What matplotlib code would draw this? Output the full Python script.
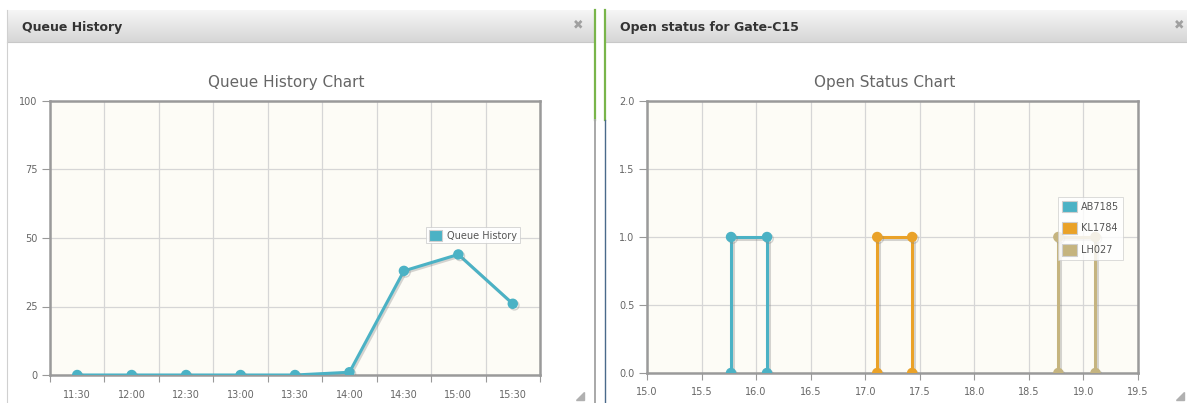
import numpy as np
import matplotlib.pyplot as plt
import matplotlib.patheffects as pe
from matplotlib.colors import LinearSegmentedColormap
from matplotlib.patches import Patch, Polygon

# Queue history data
queue_times = ['11:30', '12:00', '12:30', '13:00', '13:30', '14:00', '14:30', '15:00', '15:30']
queue_values = [0, 0, 0, 0, 0, 1, 38, 44, 26]

# Open status data (hour of day, open flag)
ab7185_x = [15.77, 15.77, 16.10, 16.10]
ab7185_y = [0, 1, 1, 0]
kl1784_x = [17.11, 17.11, 17.43, 17.43]
kl1784_y = [0, 1, 1, 0]
lh027_x = [18.77, 18.77, 19.11, 19.11]
lh027_y = [0, 1, 1, 0]

W, H = 1187, 403
TEAL = '#4bb2c5'
ORANGE = '#eaa228'
TAN = '#c5b47f'
PLOT_BG = '#fdfcf6'

fig = plt.figure(figsize=(W / 100, H / 100), dpi=100)
fig.patch.set_facecolor('white')


def px_rect(x0, y0, x1, y1):
    # pixel box (top-left origin) -> figure fraction rect
    return [x0 / W, 1 - y1 / H, (x1 - x0) / W, (y1 - y0) / H]


# background layer for the panel chrome
bg = fig.add_axes([0, 0, 1, 1])
bg.axis('off')

hdr_cmap = LinearSegmentedColormap.from_list('hdr', ['#f6f6f6', '#d6d6d6'])
grad = np.linspace(0, 1, 64).reshape(-1, 1)
for x0, x1 in [(7, 594), (605, 1187)]:
    bg.imshow(grad, extent=[x0, x1, 42, 10], cmap=hdr_cmap, aspect='auto', zorder=1)
    bg.plot([x0, x1], [42, 42], color='#c8c8c8', lw=0.8, zorder=2)
bg.set_xlim(0, W)
bg.set_ylim(H, 0)
bg.plot([7, 7], [10, H], color='#d0d0d0', lw=0.8)
bg.plot([594.5, 594.5], [10, 120], color='#79b54a', lw=1.6)
bg.plot([594.5, 594.5], [120, H], color='#a8a8a8', lw=1.4)
bg.plot([604.5, 604.5], [10, 120], color='#79b54a', lw=1.6)
bg.plot([604.5, 604.5], [120, H], color='#4a6a8a', lw=1.0)

bg.text(22, 27, 'Queue History', fontsize=9, fontweight='bold', color='#333333', va='center')
bg.text(620, 27, 'Open status for Gate-C15', fontsize=9, fontweight='bold', color='#333333', va='center')
bg.text(578, 25, '\u2716', fontsize=9, color='#a0a0a0', ha='center', va='center')
bg.text(1179, 25, '\u2716', fontsize=9, color='#a0a0a0', ha='center', va='center')
for cx in (584, 1184):
    bg.add_patch(Polygon([[cx, 392], [cx, 400], [cx - 8, 400]], closed=True, color='#b0b0b0', zorder=3))

bg.text(286, 83, 'Queue History Chart', fontsize=11, color='#666666', ha='center', va='center')
bg.text(885, 83, 'Open Status Chart', fontsize=11, color='#666666', ha='center', va='center')

shadow = [pe.SimpleLineShadow(offset=(1.2, -1.2), shadow_color='#888888', alpha=0.35), pe.Normal()]


def style_axes(ax):
    ax.set_facecolor(PLOT_BG)
    for s in ax.spines.values():
        s.set_color('#9a9a9a')
        s.set_linewidth(1.8)
    ax.grid(True, color='#d6d6d6', lw=0.9)
    ax.set_axisbelow(True)
    ax.tick_params(axis='both', colors='#999999', labelcolor='#666666', labelsize=7, width=0.8)
    ax.tick_params(axis='y', length=6, pad=3)


def swatch(color, label):
    return Patch(facecolor=color, edgecolor='#cfcfcf', linewidth=0.8, label=label)


def style_legend(leg, alpha):
    frame = leg.get_frame()
    frame.set_edgecolor('#cccccc')
    frame.set_linewidth(0.6)
    frame.set_alpha(alpha)


# left chart
ax1 = fig.add_axes(px_rect(50, 101, 540, 375))
style_axes(ax1)
xpos = np.arange(len(queue_times))
ax1.plot(xpos, queue_values, color=TEAL, lw=2.2, marker='o', ms=6.5, path_effects=shadow, zorder=3)
ax1.set_xlim(-0.5, len(queue_times) - 0.5)
ax1.set_ylim(0, 100)
ax1.set_yticks([0, 25, 50, 75, 100])
ax1.set_xticks(np.arange(-0.5, len(queue_times)), labels=[''] * (len(queue_times) + 1))
ax1.set_xticks(xpos, labels=queue_times, minor=True)
ax1.tick_params(axis='x', which='major', length=5)
ax1.tick_params(axis='x', which='minor', length=0, pad=11, labelsize=7, labelcolor='#666666')
ax1.grid(False, axis='x', which='minor')
leg1 = ax1.legend(handles=[swatch(TEAL, 'Queue History')],
                  loc='upper left', bbox_to_anchor=(0.768, 0.54), fontsize=7, frameon=True,
                  fancybox=False, handlelength=1.3, handleheight=1.3, borderpad=0.3,
                  borderaxespad=0, handletextpad=0.5, labelcolor='#555555')
style_legend(leg1, 0.9)

# right chart
ax2 = fig.add_axes(px_rect(647, 101, 1138, 373))
style_axes(ax2)
for xs, ys, c in [(ab7185_x, ab7185_y, TEAL), (kl1784_x, kl1784_y, ORANGE), (lh027_x, lh027_y, TAN)]:
    ax2.plot(xs, ys, color=c, lw=2.2, marker='o', ms=6.5, path_effects=shadow, zorder=3)
ax2.set_xlim(15, 19.5)
ax2.set_ylim(0, 2)
ax2.set_xticks(np.arange(15, 19.51, 0.5))
ax2.set_yticks(np.arange(0, 2.01, 0.5))
ax2.xaxis.set_major_formatter(plt.FormatStrFormatter('%.1f'))
ax2.yaxis.set_major_formatter(plt.FormatStrFormatter('%.1f'))
ax2.tick_params(axis='x', length=5, pad=5)
leg2 = ax2.legend(handles=[swatch(TEAL, 'AB7185'), swatch(ORANGE, 'KL1784'), swatch(TAN, 'LH027')],
                  loc='upper left', bbox_to_anchor=(0.838, 0.648), fontsize=7, frameon=True,
                  fancybox=False, handlelength=1.5, handleheight=1.5, borderpad=0.4,
                  borderaxespad=0, handletextpad=0.4, labelspacing=1.0, labelcolor='#555555')
style_legend(leg2, 0.8)

fig.savefig('out.png', dpi=100)
